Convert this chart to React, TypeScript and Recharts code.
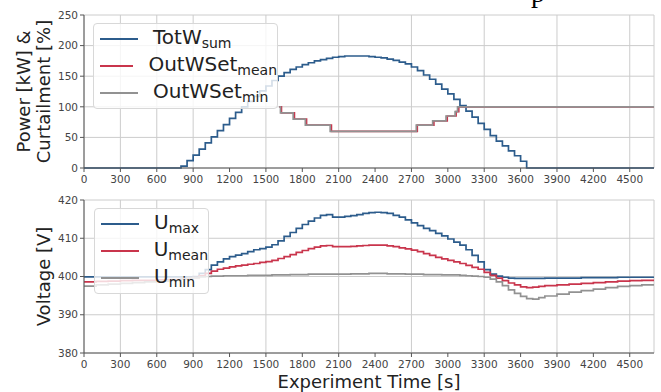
import { CartesianGrid, Legend, Line, LineChart, XAxis, YAxis } from "recharts";

const xTicks = [0, 300, 600, 900, 1200, 1500, 1800, 2100, 2400, 2700, 3000, 3300, 3600, 3900, 4200, 4500];
const powerTicks = [0, 50, 100, 150, 200, 250];
const voltTicks = [380, 390, 400, 410, 420];

// top panel: total power, stepped every 50 s
const powerTime = [0, 800, 850, 900, 950, 1000, 1050, 1100, 1150, 1200, 1250, 1300, 1350, 1400, 1450, 1500, 1550, 1600, 1650, 1700, 1750, 1800, 1850, 1900, 1950, 2000, 2050, 2100, 2150, 2200, 2250, 2300, 2350, 2400, 2450, 2500, 2550, 2600, 2650, 2700, 2750, 2800, 2850, 2900, 2950, 3000, 3050, 3100, 3150, 3200, 3250, 3300, 3350, 3400, 3450, 3500, 3550, 3600, 3650, 4700];
const totWSum = [0, 3, 12, 21, 31, 41, 51, 61, 71, 81, 91, 100, 109, 117, 126, 134, 143, 150, 156, 161, 165, 169, 172, 175, 177, 179, 181, 182, 183, 183, 183, 183, 182, 181, 180, 178, 176, 173, 170, 165, 159, 152, 145, 137, 129, 121, 112, 102, 93, 83, 73, 63, 53, 44, 36, 28, 20, 11, 0, 0];

// curtailment set points
const curtMinTime = [1610, 1620, 1725, 1825, 2030, 2740, 2875, 2985, 3060, 3080, 4700];
const outWSetMin = [100, 90, 80, 70, 60, 70, 77, 85, 92, 100, 100];
const curtMeanTime = [1610, 1628, 1735, 1835, 2040, 2748, 2885, 2995, 3068, 3090, 4700];
const outWSetMean = [100, 90, 80, 70, 60, 70, 77, 85, 92, 100, 100];

// bottom panel: voltages
const voltTime = [0, 100, 200, 300, 400, 500, 600, 700, 800,
  850, 900, 950, 1000, 1050, 1100, 1150, 1200, 1250, 1300, 1350, 1400, 1450, 1500, 1550, 1600, 1650, 1700, 1750, 1800,
  1850, 1900, 1950, 2000, 2050, 2100, 2150, 2200, 2250, 2300, 2350, 2400, 2450, 2500, 2550, 2600, 2650, 2700, 2750, 2800,
  2850, 2900, 2950, 3000, 3050, 3100, 3150, 3200, 3250, 3300, 3350, 3400, 3450, 3500, 3550, 3600, 3650, 3700, 3750, 3800,
  3900, 4000, 4100, 4200, 4300, 4400, 4500, 4600, 4700];
const uMax = [399.9, 399.9, 399.9, 399.9, 399.9, 399.9, 399.9, 399.9, 399.9,
  399.9, 400.0, 400.8, 401.8, 403.0, 403.8, 404.6, 405.2, 405.6, 406.0, 406.5, 407.0, 407.3, 407.7, 408.3, 409.3, 410.5, 411.5, 412.6, 413.6,
  414.5, 415.3, 416.0, 416.2, 415.5, 415.5, 415.7, 415.9, 416.2, 416.5, 416.7, 416.8, 416.7, 416.5, 416.0, 415.5, 414.8, 414.0, 413.3, 412.6,
  412.0, 411.3, 410.6, 409.8, 409.0, 408.2, 407.0, 405.5, 403.8, 401.8, 400.6, 400.1, 399.8, 399.6, 399.5, 399.5, 399.5, 399.5, 399.5, 399.6,
  399.6, 399.6, 399.7, 399.7, 399.7, 399.8, 399.8, 399.8, 399.8];
const uMean = [398.6, 398.7, 398.8, 398.9, 399.0, 399.0, 399.1, 399.2, 399.4,
  399.5, 399.7, 400.2, 400.8, 401.4, 401.9, 402.2, 402.5, 402.8, 403.0, 403.2, 403.4, 403.7, 403.9, 404.2, 404.7, 405.2, 405.7, 406.3, 406.8,
  407.3, 407.7, 408.0, 408.1, 407.8, 407.8, 407.8, 407.9, 408.0, 408.1, 408.2, 408.2, 408.2, 408.0, 407.8, 407.5, 407.2, 406.9, 406.5, 406.0,
  405.5, 405.0, 404.6, 404.2, 403.8, 403.4, 402.9, 402.4, 401.9, 401.1, 400.3, 399.6, 398.9, 398.3, 397.8, 397.3, 397.1, 397.2, 397.4, 397.6,
  397.8, 398.0, 398.2, 398.4, 398.6, 398.8, 398.9, 399.0, 399.1];
const uMin = [397.5, 397.8, 398.0, 398.2, 398.4, 398.6, 398.8, 399.0, 399.3,
  399.5, 399.7, 399.9, 400.0, 400.1, 400.1, 400.2, 400.2, 400.2, 400.2, 400.3, 400.3, 400.3, 400.3, 400.4, 400.4, 400.4, 400.5, 400.5, 400.5,
  400.6, 400.6, 400.6, 400.6, 400.6, 400.6, 400.6, 400.7, 400.7, 400.7, 400.8, 400.8, 400.8, 400.7, 400.7, 400.7, 400.6, 400.6, 400.6, 400.5,
  400.5, 400.5, 400.4, 400.4, 400.4, 400.3, 400.2, 400.1, 400.0, 399.8, 399.3, 398.6, 397.6, 396.5, 395.6, 394.8, 394.2, 394.1, 394.5, 394.9,
  395.4, 395.9, 396.3, 396.7, 397.1, 397.4, 397.6, 397.8, 397.9];

const BLUE = "#2c5c8c";
const RED = "#c9354c";
const GRAY = "#929292";
const FRAME = "#555";
const GRID = "#cccccc";
const FONT = "DejaVu Sans";

const powerLegend = [
  { base: "TotW", sub: "sum", color: BLUE },
  { base: "OutWSet", sub: "mean", color: RED },
  { base: "OutWSet", sub: "min", color: GRAY },
];
const voltLegend = [
  { base: "U", sub: "max", color: BLUE },
  { base: "U", sub: "mean", color: RED },
  { base: "U", sub: "min", color: GRAY },
];

const rows = (t: number[], v: number[]) => t.map((x, i) => ({ t: x, v: v[i] }));
const powerRows = rows(powerTime, totWSum);
const minRows = rows(curtMinTime, outWSetMin);
const meanRows = rows(curtMeanTime, outWSetMean);
const voltRows = voltTime.map((t, i) => ({ t, uMax: uMax[i], uMean: uMean[i], uMin: uMin[i] }));

const tickStyle = { fontSize: 10.5, fill: "#444", fontFamily: FONT };

function LegendBox({ items, width }: { items: typeof powerLegend; width: number }) {
  return (
    <div style={{
      width, height: 86, boxSizing: "border-box", background: "rgba(255,255,255,0.8)",
      border: "1px solid #d8d8d8", borderRadius: 4, paddingTop: 1, fontFamily: FONT,
    }}>
      {items.map((it) => (
        <div key={it.base + it.sub} style={{ height: 27, display: "flex", alignItems: "center" }}>
          <div style={{ marginLeft: 6, width: 38, height: 2, background: it.color }} />
          <div style={{ marginLeft: 15, fontSize: 20, lineHeight: 1, color: "#222", whiteSpace: "nowrap" }}>
            {it.base}
            <span style={{ fontSize: "0.7em", verticalAlign: "-0.25em" }}>{it.sub}</span>
          </div>
        </div>
      ))}
    </div>
  );
}

export default function App() {
  return (
    <div style={{ position: "absolute", left: 0, top: 0, width: 661, height: 392, background: "#fff", overflow: "hidden" }}>
      <div style={{ position: "absolute", left: 531, top: -21, fontFamily: "Liberation Serif", fontSize: 28, lineHeight: 1 }}>p</div>

      <div style={{ position: "absolute", left: 0, top: 0 }}>
        <LineChart width={661} height={190} margin={{ top: 15, right: 7, bottom: 0, left: 0 }}>
          <CartesianGrid stroke={GRID} strokeWidth={1} />
          <XAxis dataKey="t" type="number" domain={[0, 4700]} ticks={xTicks} allowDataOverflow height={22}
            tick={tickStyle} tickSize={4} tickMargin={4} stroke={FRAME} />
          <XAxis xAxisId="top" orientation="top" type="number" domain={[0, 4700]} ticks={[]} tick={false} tickLine={false} height={0} stroke={FRAME} />
          <YAxis type="number" domain={[0, 250]} ticks={powerTicks} width={84} tick={tickStyle} tickSize={4} tickMargin={2} stroke={FRAME}
            label={() => (
              <text transform="rotate(-90)" textAnchor="middle" fontFamily={FONT} fontSize={18} fill="#222">
                <tspan x={-91.5} y={30}>Power [kW] &amp;</tspan>
                <tspan x={-91.5} y={50}>Curtailment [%]</tspan>
              </text>
            )} />
          <YAxis yAxisId="right" orientation="right" type="number" domain={[0, 250]} ticks={[]} tick={false} tickLine={false} width={0} stroke={FRAME} />
          <Line data={powerRows} dataKey="v" type="stepAfter" stroke={BLUE} strokeWidth={1.7} dot={false} isAnimationActive={false} />
          <Line data={meanRows} dataKey="v" type="stepAfter" stroke={RED} strokeWidth={1.7} dot={false} isAnimationActive={false} />
          <Line data={minRows} dataKey="v" type="stepAfter" stroke={GRAY} strokeWidth={1.7} dot={false} isAnimationActive={false} />
          <Legend layout="horizontal" verticalAlign="middle" align="center"
            wrapperStyle={{ left: 93, top: 23, width: "auto" }}
            content={() => <LegendBox items={powerLegend} width={185} />} />
        </LineChart>
      </div>

      <div style={{ position: "absolute", left: 0, top: 185 }}>
        <LineChart width={661} height={207} data={voltRows} margin={{ top: 15, right: 7, bottom: 0, left: 0 }}>
          <CartesianGrid stroke={GRID} strokeWidth={1} />
          <XAxis dataKey="t" type="number" domain={[0, 4700]} ticks={xTicks} allowDataOverflow height={39}
            tick={tickStyle} tickSize={4} tickMargin={4} stroke={FRAME}
            label={() => (
              <text x={369} y={203} textAnchor="middle" fontFamily={FONT} fontSize={18} fill="#222">Experiment Time [s]</text>
            )} />
          <XAxis xAxisId="top" orientation="top" type="number" domain={[0, 4700]} ticks={[]} tick={false} tickLine={false} height={0} stroke={FRAME} />
          <YAxis type="number" domain={[380, 420]} ticks={voltTicks} width={84} tick={tickStyle} tickSize={4} tickMargin={2} stroke={FRAME}
            label={() => (
              <text transform="rotate(-90)" x={-91.5} y={50} textAnchor="middle" fontFamily={FONT} fontSize={18} fill="#222">Voltage [V]</text>
            )} />
          <YAxis yAxisId="right" orientation="right" type="number" domain={[380, 420]} ticks={[]} tick={false} tickLine={false} width={0} stroke={FRAME} />
          <Line dataKey="uMax" type="stepAfter" stroke={BLUE} strokeWidth={1.7} dot={false} isAnimationActive={false} />
          <Line dataKey="uMean" type="stepAfter" stroke={RED} strokeWidth={1.7} dot={false} isAnimationActive={false} />
          <Line dataKey="uMin" type="stepAfter" stroke={GRAY} strokeWidth={1.7} dot={false} isAnimationActive={false} />
          <Legend layout="horizontal" verticalAlign="middle" align="center"
            wrapperStyle={{ left: 94, top: 23, width: "auto" }}
            content={() => <LegendBox items={voltLegend} width={115} />} />
        </LineChart>
      </div>
    </div>
  );
}
